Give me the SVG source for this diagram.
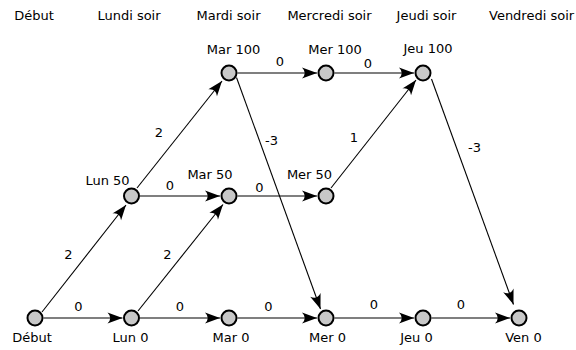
<svg xmlns="http://www.w3.org/2000/svg" width="576" height="350" viewBox="0 0 576 350">
<style>
text{font-family:"DejaVu Sans","Liberation Sans",sans-serif;font-size:13px;fill:#000;text-anchor:middle}
.e{stroke:#000;stroke-width:1.1;fill:none;marker-end:url(#ah)}
.n{fill:#c8c8c8;stroke:#000;stroke-width:2}
</style>
<defs>
<marker id="ah" markerUnits="userSpaceOnUse" markerWidth="16" markerHeight="12" refX="15" refY="6" orient="auto" overflow="visible">
<path d="M15,6 L0,0.5 Q5.5,6 0,11.5 Z" fill="#000"/>
</marker>
</defs>
<g id="headers">
<text x="34" y="20">Début</text>
<text x="129" y="20">Lundi soir</text>
<text x="228.5" y="20">Mardi soir</text>
<text x="329.5" y="20">Mercredi soir</text>
<text x="426.5" y="20">Jeudi soir</text>
<text x="489" y="20" style="text-anchor:start">Vendredi soir</text>
</g>
<g id="connectors">
<line class="e" x1="43.5" y1="318" x2="122.5" y2="318"/>
<line class="e" x1="140" y1="318" x2="220" y2="318"/>
<line class="e" x1="237.5" y1="318" x2="317" y2="318"/>
<line class="e" x1="334.5" y1="318" x2="414" y2="318"/>
<line class="e" x1="431.5" y1="318" x2="510" y2="318"/>
<line class="e" x1="140" y1="196" x2="220" y2="196"/>
<line class="e" x1="237.5" y1="196" x2="317" y2="196"/>
<line class="e" x1="237.5" y1="73" x2="317" y2="73"/>
<line class="e" x1="334.5" y1="73" x2="414" y2="73"/>
<line class="e" x1="42" y1="312" x2="126" y2="205"/>
<line class="e" x1="138" y1="311" x2="223" y2="204.5"/>
<line class="e" x1="137" y1="188" x2="222" y2="81"/>
<line class="e" x1="331" y1="188" x2="416" y2="80"/>
<line class="e" x1="236.5" y1="77.5" x2="320.5" y2="309"/>
<line class="e" x1="431.5" y1="79" x2="513.5" y2="304.5"/>
</g>
<g id="edge-labels">
<text x="78.5" y="311">0</text>
<text x="180" y="311">0</text>
<text x="268.5" y="311">0</text>
<text x="374" y="309">0</text>
<text x="461" y="309">0</text>
<text x="68.5" y="259">2</text>
<text x="167.5" y="259">2</text>
<text x="170" y="190">0</text>
<text x="259.5" y="192">0</text>
<text x="159" y="137">2</text>
<text x="271.5" y="145">-3</text>
<text x="280" y="66">0</text>
<text x="368" y="68">0</text>
<text x="354" y="142">1</text>
<text x="474.5" y="152">-3</text>
</g>
<g id="n-debut"><circle class="n" cx="35" cy="318" r="7.5"/><text x="32" y="342">Début</text></g>
<g id="n-lun0"><circle class="n" cx="131.5" cy="318" r="7.5"/><text x="130.5" y="342">Lun 0</text></g>
<g id="n-mar0"><circle class="n" cx="229" cy="318" r="7.5"/><text x="231" y="342">Mar 0</text></g>
<g id="n-mer0"><circle class="n" cx="326" cy="318" r="7.5"/><text x="327.5" y="342">Mer 0</text></g>
<g id="n-jeu0"><circle class="n" cx="423" cy="318" r="7.5"/><text x="416.5" y="341.5">Jeu 0</text></g>
<g id="n-ven0"><circle class="n" cx="519" cy="318" r="7.5"/><text x="523.5" y="342">Ven 0</text></g>
<g id="n-lun50"><circle class="n" cx="131.5" cy="196" r="7.5"/><text x="107.5" y="185">Lun 50</text></g>
<g id="n-mar50"><circle class="n" cx="229" cy="196" r="7.5"/><text x="210" y="179">Mar 50</text></g>
<g id="n-mer50"><circle class="n" cx="326" cy="196" r="7.5"/><text x="309.5" y="179">Mer 50</text></g>
<g id="n-mar100"><circle class="n" cx="229" cy="73" r="7.5"/><text x="233.5" y="54">Mar 100</text></g>
<g id="n-mer100"><circle class="n" cx="326" cy="73" r="7.5"/><text x="335" y="54">Mer 100</text></g>
<g id="n-jeu100"><circle class="n" cx="423" cy="73" r="7.5"/><text x="428" y="53">Jeu 100</text></g>
</svg>
